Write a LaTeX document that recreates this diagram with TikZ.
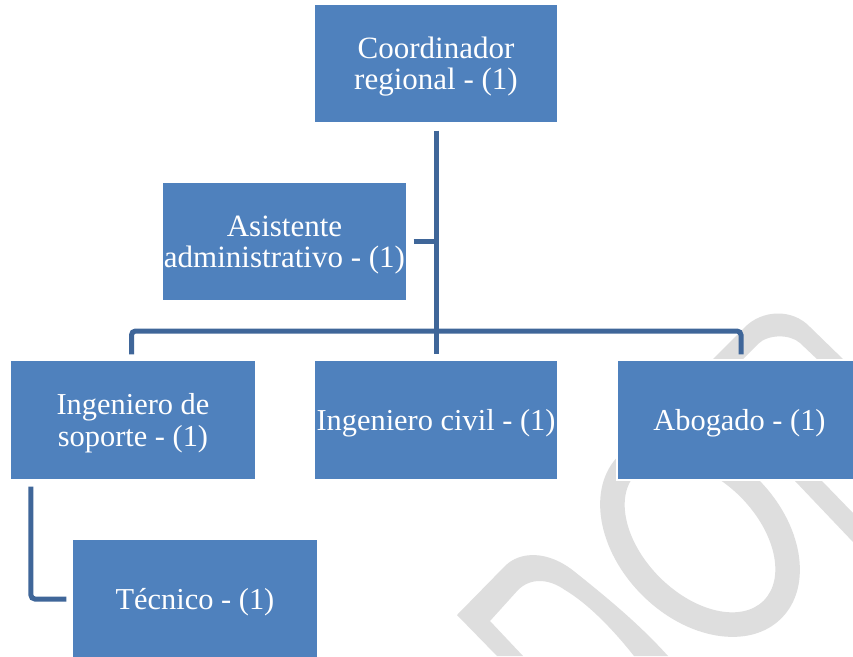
\documentclass[tikz,border=0pt]{standalone}
\usepackage{fontspec}
\setmainfont{Liberation Serif}
\definecolor{boxblue}{HTML}{4F81BD}
\definecolor{linkblue}{HTML}{3F6699}
\definecolor{wmgray}{HTML}{DEDEDE}
\newcommand{\tstrut}{\rule{0pt}{27pt}}
\begin{document}
\begin{tikzpicture}[x=1pt,y=-1pt,
  box/.style={rectangle, fill=boxblue, draw=white, line width=1.2pt, text=white,
    align=center, inner sep=0pt, minimum width=245pt, minimum height=120pt},
  topfont/.style={font=\fontsize{31}{31}\selectfont},
  lowfont/.style={font=\fontsize{30.4}{32}\selectfont},
  conn/.style={draw=linkblue, line width=5pt},
  wm/.style={fill=wmgray}]
\useasboundingbox (0,0) rectangle (853,656);
\clip (0,0) rectangle (853,656);
\fill[white] (0,0) rectangle (853,656);
% watermark fragments
\fill[wm] (497,656) -- (457,615) -- (505,566)
  .. controls (520,551) and (548,550) .. (575,572)
  .. controls (610,600) and (640,625) .. (668,656) -- (634,656)
  .. controls (615,632) and (590,605) .. (565,590)
  .. controls (548,578) and (530,578) .. (518,590) -- (490,621) -- (523,656) -- cycle;
\begin{scope}[shift={(700,537)}, rotate=-45]
  \fill[wm, even odd rule] (0,0) ellipse [x radius=115pt, y radius=82pt]
    (0,0) ellipse [x radius=90pt, y radius=57pt];
\end{scope}
\fill[wm] (711,361) -- (745,327) .. controls (762,310) and (792,308) .. (810,327)
  -- (845,361) -- (819,361) -- (800,343) .. controls (790,334) and (768,334) .. (758,344)
  -- (741,361) -- cycle;
\fill[wm] (795,481) -- (822,481) -- (853,513) -- (853,542) -- cycle;
% boxes
\node[box, topfont, minimum width=244pt, minimum height=119pt] (coord) at (436,63.5) {\tstrut Coordinador\\regional - (1)};
\node[box, topfont, minimum width=245pt, minimum height=119pt] (asist) at (284.5,241.5) {\tstrut Asistente\\administrativo - (1)};
\node[box, lowfont, minimum width=246pt] (ingsop) at (133,420) {\tstrut Ingeniero de\\soporte - (1)};
\node[box, lowfont, minimum width=244pt] (ingciv) at (436,420) {\tstrut Ingeniero civil - (1)};
\node[box, lowfont] (abog) at (739.5,420) {\tstrut Abogado - (1)};
\node[box, lowfont, minimum width=246pt] (tec) at (195,599) {\tstrut Técnico - (1)};
% connectors
\coordinate (barmid) at (436,331);
\coordinate (tcorner) at ([xshift=21.5pt,yshift=-6pt]ingsop.south west);
\draw[conn, rounded corners=4pt] ([xshift=-1.5pt,yshift=5pt]ingsop.north) |- (barmid) -| ([xshift=1.5pt,yshift=5pt]abog.north);
\draw[conn] ([yshift=-7pt]coord.south) -- ([yshift=5pt]ingciv.north);
\draw[conn] ([xshift=6pt]asist.east) -- (asist.east -| coord.south);
\draw[conn, rounded corners=4pt] (tcorner) |- ([xshift=-5pt]tec.west);
\end{tikzpicture}
\end{document}
